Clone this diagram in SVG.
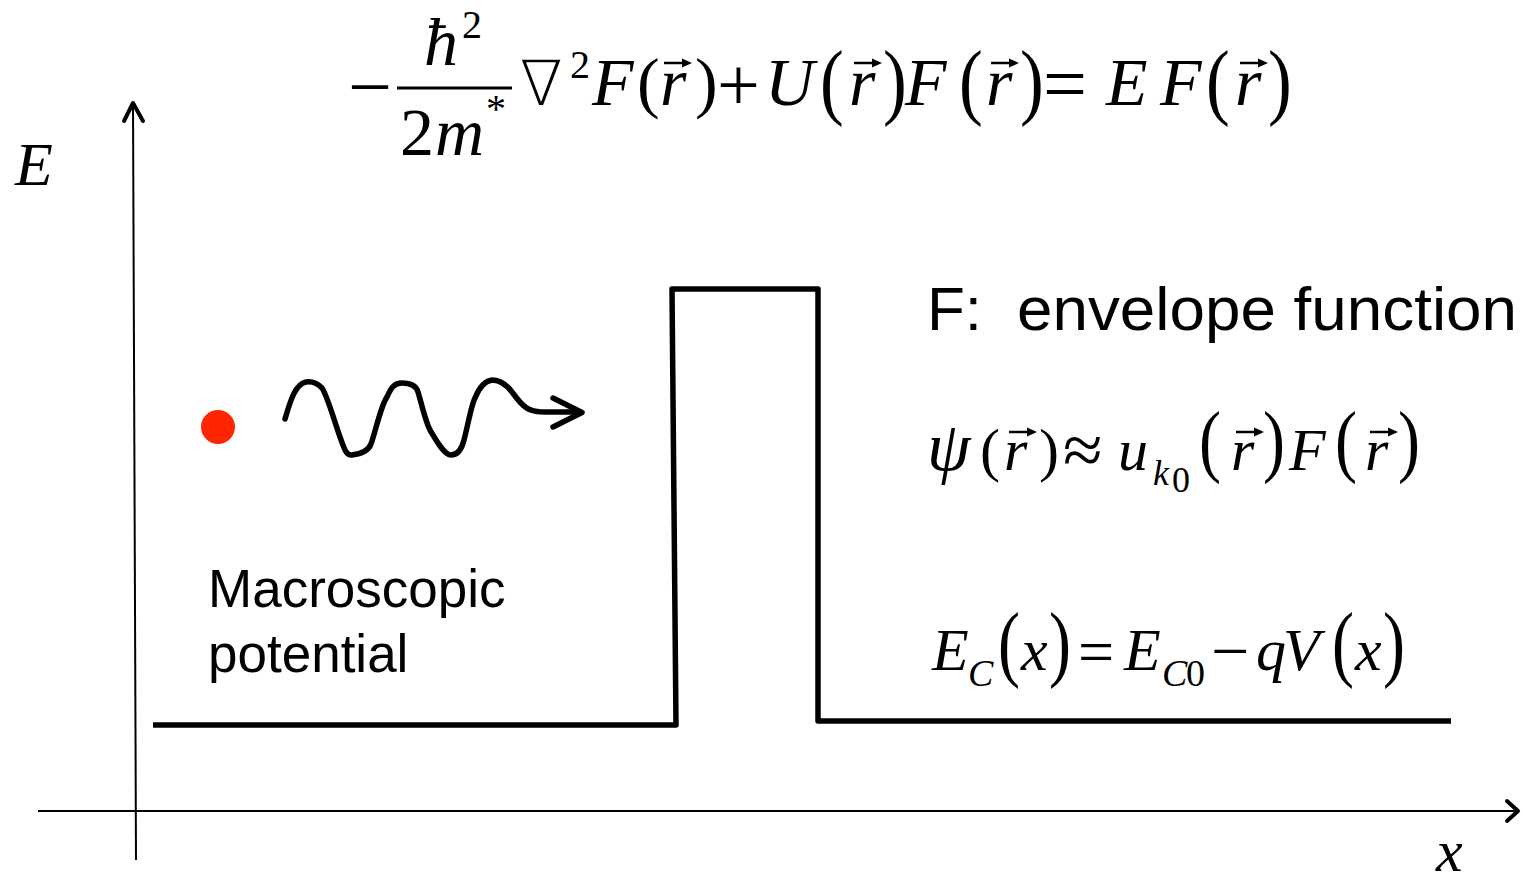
<svg xmlns="http://www.w3.org/2000/svg" width="1523" height="879" viewBox="0 0 1523 879">
<style>
.m{font-family:"Liberation Serif","Times New Roman",serif;fill:#000}
.i{font-style:italic}
.nab{font-family:"DejaVu Sans",sans-serif;font-weight:200}
.s{font-family:"Liberation Sans",Arial,sans-serif;fill:#000}
.ax{fill:none;stroke:#000;stroke-width:2}
.hd{fill:none;stroke:#000;stroke-width:4;stroke-linecap:round;stroke-linejoin:round}
.pot{fill:none;stroke:#000;stroke-width:5.5;stroke-linejoin:round}
.vl{stroke:#000;stroke-width:2.5}
</style>
<defs>
<g id="vec"><line class="vl" x1="0" y1="0" x2="22" y2="0"/><path d="M18,-4.5 L28,0 L18,4.5 Z" fill="#000"/></g>
</defs>

<g id="axes">
<line class="ax" x1="136" y1="860" x2="133" y2="104"/>
<polyline class="hd" points="124,121 133,103 143,121"/>
<line class="ax" x1="38" y1="811" x2="1516" y2="811"/>
<polyline class="hd" points="1507,801 1518,811 1507,821"/>
<text class="m i" x="15" y="185" font-size="62">E</text>
<text class="m i" x="1436" y="871" font-size="60">x</text>
</g>

<g id="potential">
<path class="pot" d="M153,725 H676 L672,289 H818 V721 H1451"/>
</g>

<g id="particle">
<circle cx="218" cy="427" r="17" fill="#ff2600"/>
<path d="M285,419 C290,402 295,384 306,382 C313,381 318,384 322,388 C327,395 334,420 340,437 C344,448 346,456 352,455 C360,454 368,452 371,444 C376,430 381,405 387,397 C391,388 394,383 402,383 C410,383 416,385 418,392 C422,405 425,420 430,430 C436,440 444,455 451,455 C458,455 462,448 464,440 C468,425 471,406 475,398 C479,388 484,381 492,380 C500,380 506,384 512,392 C518,400 524,408 531,410 C536,412 540,412 545,412 L580,412" fill="none" stroke="#000" stroke-width="5.5" stroke-linecap="round" stroke-linejoin="round"/>
<polyline points="553,398 582,412.5 553,427" fill="none" stroke="#000" stroke-width="5.5" stroke-linecap="round" stroke-linejoin="round"/>
</g>

<g id="label-macro">
<text class="s" x="208" y="607" font-size="53">Macroscopic</text>
<text class="s" x="208" y="672" font-size="53">potential</text>
</g>

<g id="label-envelope">
<text class="s" x="927" y="330" font-size="62">F:</text>
<text class="s" x="1017" y="330" font-size="62" textLength="500" lengthAdjust="spacingAndGlyphs">envelope function</text>
</g>

<g id="eq-schrodinger" class="m" font-size="68">
<text x="348" y="113" font-size="78">−</text>
<line x1="397" y1="88" x2="512" y2="88" stroke="#000" stroke-width="3"/>
<text class="i" x="424" y="65">ħ</text>
<text x="462" y="38" font-size="40">2</text>
<text x="400" y="155">2</text>
<text class="i" x="435" y="155">m</text>
<text x="486" y="122" font-size="40">*</text>
<text class="nab" x="520" y="105" font-size="62">∇</text>
<text x="570" y="78" font-size="40">2</text>
<text class="i" x="592" y="105">F</text>
<text x="637" y="105">(</text>
<text class="i" x="660" y="105">r</text>
<use href="#vec" x="664" y="63"/>
<text x="695" y="105">)</text>
<text x="717" y="110" font-size="76">+</text>
<text class="i" x="765" y="105">U</text>
<text transform="translate(820,88) scale(1.05,1.23)" y="17">(</text>
<text class="i" x="849" y="105">r</text>
<use href="#vec" x="854" y="63"/>
<text transform="translate(883,88) scale(1.05,1.23)" y="17">)</text>
<text class="i" x="905" y="105">F</text>
<text transform="translate(959,88) scale(1.05,1.23)" y="17">(</text>
<text class="i" x="986" y="105">r</text>
<use href="#vec" x="991" y="63"/>
<text transform="translate(1020,88) scale(1.05,1.23)" y="17">)</text>
<text x="1043" y="110" font-size="78">=</text>
<text class="i" x="1106" y="105">E</text>
<text class="i" x="1160" y="105">F</text>
<text transform="translate(1206,88) scale(1.05,1.23)" y="17">(</text>
<text class="i" x="1235" y="105">r</text>
<use href="#vec" x="1240" y="63"/>
<text transform="translate(1268,88) scale(1.05,1.23)" y="17">)</text>
</g>

<g id="eq-psi" class="m" font-size="60">
<text class="i" x="927" y="470" font-size="70">ψ</text>
<text x="980" y="470">(</text>
<text class="i" x="1004" y="470">r</text>
<use href="#vec" x="1009" y="432"/>
<text x="1039" y="470">)</text>
<text x="1063" y="474" font-size="72">≈</text>
<text class="i" x="1118" y="470">u</text>
<text class="i" x="1153" y="485" font-size="36">k</text>
<text x="1172" y="492" font-size="36">0</text>
<text transform="translate(1199,447) scale(1.1,1.35)" y="15">(</text>
<text class="i" x="1231" y="470">r</text>
<use href="#vec" x="1236" y="432"/>
<text transform="translate(1263,447) scale(1.1,1.35)" y="15">)</text>
<text class="i" x="1289" y="470">F</text>
<text transform="translate(1335,447) scale(1.1,1.35)" y="15">(</text>
<text class="i" x="1365" y="470">r</text>
<use href="#vec" x="1370" y="432"/>
<text transform="translate(1398,447) scale(1.1,1.35)" y="15">)</text>
</g>

<g id="eq-ec" class="m" font-size="60">
<text class="i" x="932" y="670">E</text>
<text class="i" x="968" y="686" font-size="38">C</text>
<text transform="translate(998,650) scale(1.1,1.4)" y="15">(</text>
<text class="i" x="1021" y="670">x</text>
<text transform="translate(1049,650) scale(1.1,1.4)" y="15">)</text>
<text x="1078" y="673" font-size="64">=</text>
<text class="i" x="1124" y="670">E</text>
<text class="i" x="1162" y="686" font-size="38">C</text>
<text x="1186" y="686" font-size="38">0</text>
<text x="1211" y="674" font-size="68">−</text>
<text class="i" x="1256" y="670">q</text>
<text class="i" x="1283" y="670">V</text>
<text transform="translate(1332,650) scale(1.1,1.4)" y="15">(</text>
<text class="i" x="1355" y="670">x</text>
<text transform="translate(1383,650) scale(1.1,1.4)" y="15">)</text>
</g>
</svg>
